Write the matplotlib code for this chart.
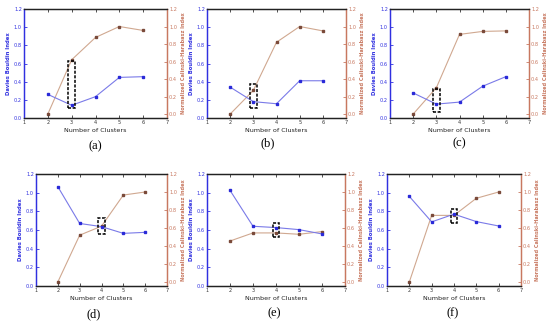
import matplotlib
matplotlib.use("Agg")
import matplotlib.pyplot as plt
from matplotlib.patches import Rectangle

clusters = [2, 3, 4, 5, 6]
labels = ["(a)", "(b)", "(c)", "(d)", "(e)", "(f)"]
dbi_a = [0.26, 0.14, 0.235, 0.447, 0.455]
dbi_b = [0.34, 0.18, 0.157, 0.41, 0.41]
dbi_c = [0.276, 0.153, 0.175, 0.35, 0.455]
dbi_d = [1.064, 0.67, 0.636, 0.564, 0.575]
dbi_e = [1.025, 0.64, 0.626, 0.604, 0.558]
dbi_f = [0.96, 0.687, 0.77, 0.69, 0.643]
ch_a = [0.0, 0.62, 0.875, 1.0, 0.955]
ch_b = [0.0, 0.27, 0.82, 1.0, 0.95]
ch_c = [0.0, 0.30, 0.91, 0.944, 0.95]
ch_d = [0.0, 0.52, 0.62, 0.966, 1.0]
ch_e = [0.455, 0.545, 0.545, 0.53, 0.56]
ch_f = [0.0, 0.74, 0.74, 0.93, 1.0]
box_k = [3, 3, 3, 4, 4, 4]
box_lo = [0.11, 0.11, 0.065, 0.56, 0.53, 0.68]
box_hi = [0.63, 0.37, 0.32, 0.73, 0.67, 0.82]

dbis = [dbi_a, dbi_b, dbi_c, dbi_d, dbi_e, dbi_f]
chs = [ch_a, ch_b, ch_c, ch_d, ch_e, ch_f]

# pixel boxes (left, right, top, bottom)
pos = [(24, 167, 9, 118), (207, 346, 9, 118), (390, 529, 9, 118),
       (36, 167, 174, 286), (207, 345, 174, 286), (387, 521, 174, 286)]
caps = [(95, 146), (268, 143), (459, 143), (94, 314), (274, 313), (453, 313)]

W, H = 550, 324
fig = plt.figure(figsize=(5.5, 3.24), dpi=100)

blue_line = "#7a7ae8"
blue_mark = "#2a2ad8"
blue_axis = "#3030e0"
red_line = "#d0a890"
red_mark = "#7a4a3a"
red_axis = "#c87860"
fs_tick = 3.6

for i in range(6):
    l, r, t, b = pos[i]
    ax = fig.add_axes([l / W, 1 - b / H, (r - l) / W, (b - t) / H])
    ax2 = ax.twinx()
    ax.plot(clusters, dbis[i], "-", color=blue_line, lw=0.8, marker="s",
            ms=2.0, mfc=blue_mark, mec=blue_mark, zorder=3)
    ax2.plot(clusters, chs[i], "-", color=red_line, lw=0.8, marker="s",
             ms=2.0, mfc=red_mark, mec=red_mark, zorder=3)
    ax.set_xlim(1, 7)
    ax.set_ylim(0, 1.2)
    ax2.set_ylim(-0.045, 1.2)
    ax.set_xticks(range(1, 8))
    ax.set_yticks([0, 0.2, 0.4, 0.6, 0.8, 1.0, 1.2])
    ax2.set_yticks([0, 0.2, 0.4, 0.6, 0.8, 1.0, 1.2])
    ax.set_yticklabels(["0.0", "0.2", "0.4", "0.6", "0.8", "1.0", "1.2"])
    ax2.set_yticklabels(["0.0", "0.2", "0.4", "0.6", "0.8", "1.0", "1.2"])
    ax.tick_params(axis="x", direction="in", length=2, width=0.6, labelsize=fs_tick,
                   top=True, pad=1.5, colors="#333333")
    ax.tick_params(axis="y", direction="in", length=2, width=0.6, labelsize=fs_tick,
                   colors=blue_axis, pad=1.5)
    ax2.tick_params(axis="y", direction="in", length=2, width=0.6, labelsize=fs_tick,
                    colors=red_axis, pad=1.5)
    for a in (ax, ax2):
        a.spines["top"].set_color("#222222")
        a.spines["bottom"].set_color("#222222")
        a.spines["left"].set_color(blue_axis)
        a.spines["right"].set_color(red_axis)
        for s in a.spines.values():
            s.set_linewidth(0.9)
    ax.set_xlabel("Number of Clusters", fontsize=4.6, labelpad=2, color="#222222")
    ax.set_ylabel("Davies Bouldin Index", fontsize=3.8, color=blue_axis, labelpad=2,
                  fontweight="bold")
    ax2.set_ylabel("Normalized Calinski-Harabasz Index", fontsize=3.6, color=red_axis,
                   labelpad=3, fontweight="bold")
    k = box_k[i]
    ax.add_patch(Rectangle((k - 0.14, box_lo[i]), 0.28, box_hi[i] - box_lo[i],
                           fill=False, ec="black", lw=1.1, ls=(0, (2, 1)), zorder=5))
    ax.set_zorder(ax2.get_zorder() + 1)
    ax.patch.set_visible(False)
    fig.text(caps[i][0] / W, 1 - caps[i][1] / H, labels[i], ha="center", va="center",
             fontsize=9, family="Liberation Serif")

fig.savefig("out.png", dpi=100)
